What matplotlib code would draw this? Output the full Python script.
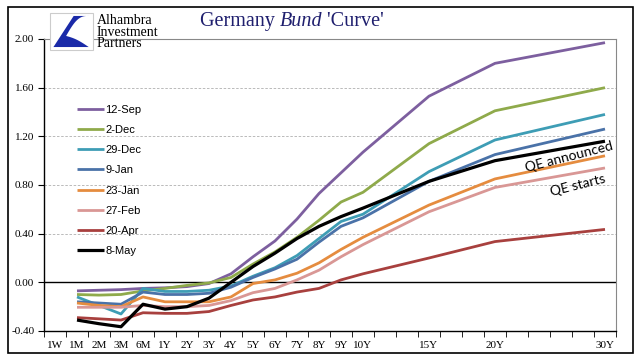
import numpy as np
import matplotlib
matplotlib.use('Agg')
import matplotlib.pyplot as plt
from matplotlib.patches import Rectangle, Polygon
from matplotlib.font_manager import FontProperties

# category axis (blank slots keep the spacing between 10Y, 15Y, 20Y, 30Y)
categories = ['1W', '1M', '2M', '3M', '6M', '1Y', '2Y', '3Y', '4Y', '5Y', '6Y', '7Y',
              '8Y', '9Y', '10Y', '', '', '15Y', '', '', '20Y', '', '', '', '', '30Y']
tenors = ['1M', '2M', '3M', '6M', '1Y', '2Y', '3Y', '4Y', '5Y', '6Y', '7Y', '8Y',
          '9Y', '10Y', '15Y', '20Y', '30Y']

sep12 = [-0.07, -0.065, -0.06, -0.05, -0.045, -0.035, -0.01, 0.07, 0.21, 0.34, 0.52, 0.73, 0.90, 1.07, 1.53, 1.80, 1.97]
dec2 = [-0.10, -0.105, -0.10, -0.07, -0.05, -0.025, -0.005, 0.04, 0.15, 0.25, 0.37, 0.51, 0.66, 0.74, 1.14, 1.41, 1.60]
dec29 = [-0.12, -0.19, -0.26, -0.05, -0.075, -0.075, -0.065, -0.03, 0.05, 0.12, 0.22, 0.36, 0.50, 0.56, 0.91, 1.17, 1.38]
jan9 = [-0.16, -0.17, -0.18, -0.08, -0.10, -0.10, -0.09, -0.04, 0.04, 0.11, 0.19, 0.33, 0.46, 0.53, 0.83, 1.05, 1.26]
jan23 = [-0.17, -0.19, -0.20, -0.12, -0.16, -0.16, -0.16, -0.12, -0.01, 0.02, 0.075, 0.16, 0.27, 0.37, 0.635, 0.85, 1.04]
feb27 = [-0.205, -0.205, -0.205, -0.19, -0.20, -0.20, -0.19, -0.15, -0.085, -0.05, 0.02, 0.10, 0.21, 0.31, 0.58, 0.78, 0.94]
apr20 = [-0.29, -0.30, -0.31, -0.25, -0.255, -0.255, -0.24, -0.19, -0.145, -0.12, -0.08, -0.05, 0.02, 0.07, 0.20, 0.335, 0.435]
may8 = [-0.31, -0.34, -0.365, -0.18, -0.22, -0.20, -0.13, 0.0, 0.13, 0.24, 0.36, 0.46, 0.54, 0.61, 0.83, 1.00, 1.16]

labels = ['12-Sep', '2-Dec', '29-Dec', '9-Jan', '23-Jan', '27-Feb', '20-Apr', '8-May']
series = [sep12, dec2, dec29, jan9, jan23, feb27, apr20, may8]
colors = ['#7D5F9F', '#8FAA4B', '#3E9DB5', '#4A72A8', '#E58C3F', '#D99795', '#A8403E', '#000000']

fig = plt.figure(figsize=(6.41, 3.61), dpi=100)
ax = fig.add_axes([44/641, 1-331/361, 572/641, 292/361])

x = [categories.index(t) for t in tenors]
for vals, lab, c in zip(series, labels, colors):
    lw = 2.3 if c == '#000000' else 2.0
    ax.plot(x, vals, color=c, lw=lw, label=lab, solid_capstyle='butt')

ax.set_xlim(-0.5, len(categories) - 0.5)
ax.set_ylim(-0.4, 2.0)
yt = np.arange(-0.4, 2.01, 0.4)
ax.set_yticks(yt)
ax.set_yticklabels(['%.2f' % v for v in yt], fontsize=8, family='Liberation Serif')
for v in [0.4, 0.8, 1.2, 1.6]:
    ax.axhline(v, color='#B0B0B0', lw=0.6, ls=(0, (3, 2)), zorder=0)
ax.axhline(0, color='black', lw=1.0, zorder=1)

ax.set_xticks(range(len(categories)))
ax.set_xticklabels(categories, fontsize=8, family='Liberation Serif')
ax.set_xticks(np.arange(-0.5, len(categories), 1), minor=True)
ax.tick_params(axis='x', which='major', length=0, pad=7)
ax.tick_params(axis='x', which='minor', length=4, direction='out', color='black')
ax.tick_params(axis='y', length=4, direction='out', color='black', pad=3)

for s in ['top', 'right']:
    ax.spines[s].set_color('#888888')
    ax.spines[s].set_linewidth(0.8)
for s in ['left', 'bottom']:
    ax.spines[s].set_color('black')
    ax.spines[s].set_linewidth(1.0)

leg_font = FontProperties(family='Liberation Sans', size=8)
ax.legend(loc='upper left', bbox_to_anchor=(0.058, 0.775), frameon=False,
          prop=leg_font, handlelength=2.4,
          handletextpad=0.15, labelspacing=0.92, borderpad=0, borderaxespad=0)

ax.text(0.918, 0.596, 'QE announced', transform=ax.transAxes, rotation=14.5,
        ha='center', va='center', fontsize=10, family='Lato')
ax.text(0.934, 0.50, 'QE starts', transform=ax.transAxes, rotation=14,
        ha='center', va='center', fontsize=10, family='Lato')

# logo box
lx0, ly0, lw_, lh_ = 50/641, 1-50/361, 43/641, 37/361
fig.patches.append(Rectangle((lx0, ly0), lw_, lh_, transform=fig.transFigure,
                             facecolor='white', edgecolor='#CCCCCC', lw=0.8, zorder=5))
t = np.linspace(0, 1, 20)
curve_a = [(0.92 - 0.55*s, 0.92 - 0.55*s + 0.18*np.sin(np.pi*s)) for s in t]
curve_b = [(0.3 + 0.6*s, 0.4 - 0.32*s + 0.05*np.sin(np.pi*s)) for s in t]
pts = [(0.55, 0.92), (0.92, 0.92)] + curve_a + curve_b + [(0.9, 0.08), (0.08, 0.08)]
pts = [(lx0 + px*lw_, ly0 + py*lh_) for px, py in pts]
fig.patches.append(Polygon(pts, closed=True, transform=fig.transFigure,
                           facecolor='#1A2AA8', edgecolor='none', zorder=6))
fig.text(97/641, 1-32/361, 'Alhambra\nInvestment\nPartners', fontsize=10,
         family='Liberation Serif', va='center', ha='left', linespacing=0.82)

# title with italic 'Bund'
fig.canvas.draw()
r = fig.canvas.get_renderer()
tx = 200/641
ty = 1-26/361
for part, style in [('Germany ', 'normal'), ('Bund', 'italic'), (" 'Curve'", 'normal')]:
    tt = fig.text(tx, ty, part, fontsize=14.5, family='Liberation Serif', style=style,
                  color='#1F1F6E', va='baseline', ha='left')
    bb = tt.get_window_extent(renderer=r)
    tx += bb.width / fig.bbox.width

# outer frame
fig.patches.append(Rectangle((8/641, 1-353/361), 625/641, 346/361, transform=fig.transFigure,
                             facecolor='none', edgecolor='black', lw=1.2, zorder=10))

fig.savefig('out.png', dpi=100)
